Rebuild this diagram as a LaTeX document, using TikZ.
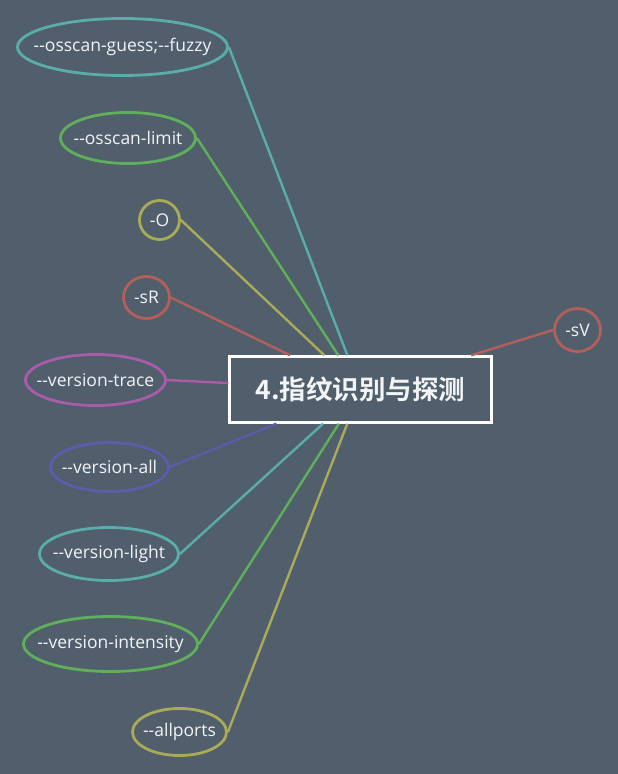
\documentclass[tikz,border=0pt]{standalone}
\usepackage{fontspec}
\usetikzlibrary{shapes.geometric}
\newfontfamily\optfont[Ligatures=TeXOff]{Open Sans}
\newfontfamily\titlefont{Noto Sans CJK SC}[BoldFont=Noto Sans CJK SC Bold]
\definecolor{bgcol}{HTML}{505F6B}
\definecolor{txtcol}{HTML}{F2F4F6}
\definecolor{tealc}{HTML}{5AADA8}
\definecolor{greenc}{HTML}{60AF5A}
\definecolor{olivec}{HTML}{ABAA58}
\definecolor{redc}{HTML}{B3605C}
\definecolor{purplec}{HTML}{AA5CAA}
\definecolor{bluec}{HTML}{5C5CAA}
\newcommand{\optlbl}[1]{\hbox to 0pt{\hss#1\hss}}
\tikzset{opt/.style={ellipse, draw=#1, line width=2.8pt, inner sep=0pt, text=txtcol,
		font=\optfont\fontsize{17.5pt}{20pt}\selectfont},
	branch/.style={draw=#1, line width=2.4pt}}

\begin{document}
\begin{tikzpicture}[x=1pt, y=-1pt]
			\fill[bgcol] (0,0) rectangle (618,774);
			\useasboundingbox (0,0) rectangle (618,774);
			
			% main topic
			\node [draw=white, line width=2.4pt, minimum width=262, minimum height=66, inner sep=0pt,
				text=txtcol, font=\titlefont\bfseries\fontsize{26.5pt}{30pt}\selectfont] (topic) at (360.5,389.5) {4.指纹识别与探测};
			
			% options
			\node [opt=tealc, minimum width=210, minimum height=57] (guess) at (122.5,47) {\optlbl{--osscan-guess;--fuzzy}};
			\node [opt=greenc, minimum width=135, minimum height=51] (limit) at (128,138) {\optlbl{--osscan-limit}};
			\node [opt=olivec, minimum width=40, minimum height=39] (O) at (159.5,220) {\optlbl{-O}};
			\node [opt=redc, minimum width=46, minimum height=42] (sR) at (146.5,297.5) {\optlbl{-sR}};
			\node [opt=purplec, minimum width=140, minimum height=51] (trace) at (95.5,380) {\optlbl{--version-trace}};
			\node [opt=bluec, minimum width=118, minimum height=49] (all) at (109.5,467) {\optlbl{--version-all}};
			\node [opt=tealc, minimum width=139, minimum height=53] (light) at (109,554) {\optlbl{--version-light}};
			\node [opt=greenc, minimum width=174, minimum height=55] (intensity) at (110.5,644) {\optlbl{--version-intensity}};
			\node [opt=olivec, minimum width=94, minimum height=47] (allports) at (179.5,732) {\optlbl{--allports}};
			\node [opt=redc, minimum width=46, minimum height=43] (sV) at (577.5,330) {\optlbl{-sV}};
			
			% branches
			\draw[branch=tealc] (guess.east) -- (topic);
			\draw[branch=greenc] (limit.east) -- (topic);
			\draw[branch=olivec] (O.east) -- (topic);
			\draw[branch=redc] (sR.east) -- (topic);
			\draw[branch=purplec] (trace.east) -- (topic);
			\draw[branch=bluec] (all.east) -- (topic);
			\draw[branch=tealc] (light.east) -- (topic);
			\draw[branch=greenc] (intensity.east) -- (topic);
			\draw[branch=olivec] (allports.east) -- (topic);
			\draw[branch=redc] (sV.west) -- (topic);
		\end{tikzpicture}
\end{document}
